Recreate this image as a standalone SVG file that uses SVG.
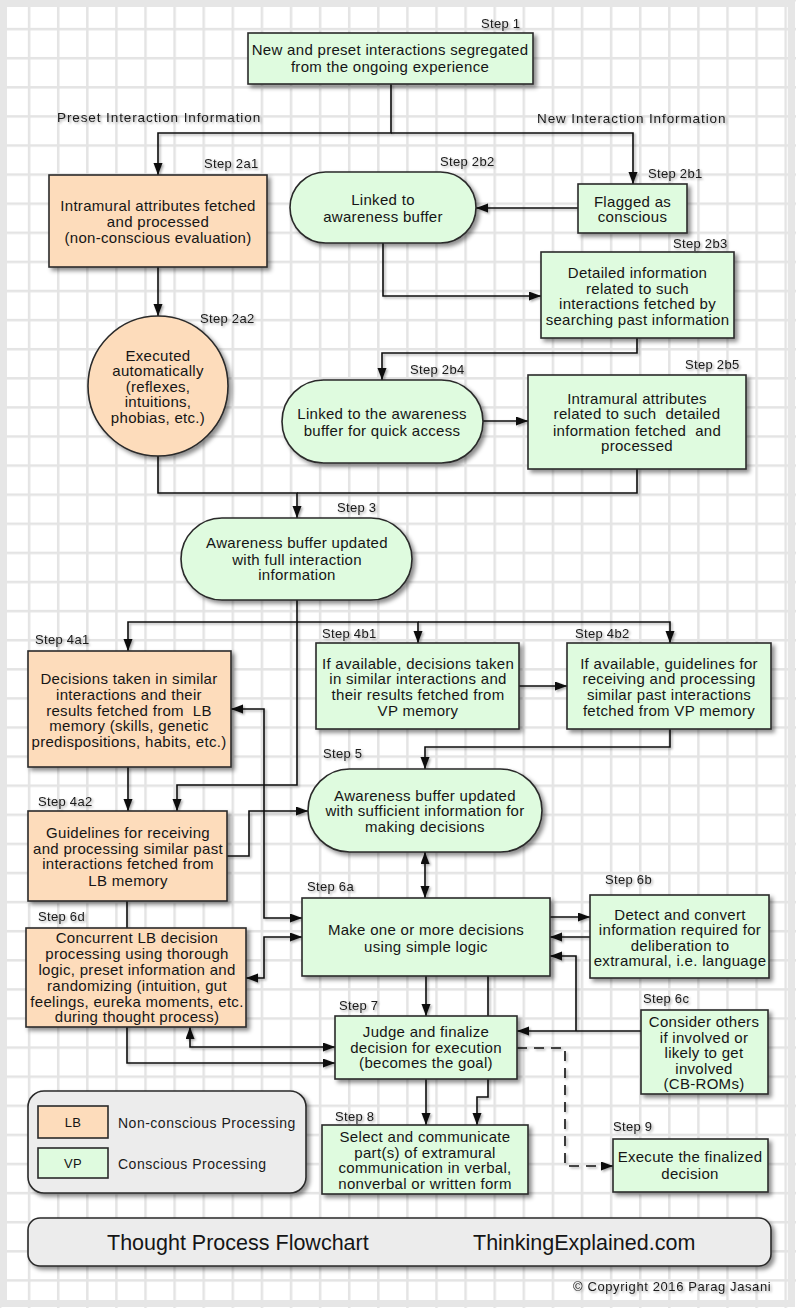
<svg xmlns="http://www.w3.org/2000/svg" width="796" height="1308" viewBox="0 0 796 1308">
<defs>
<pattern id="grid" patternUnits="userSpaceOnUse" x="-1.25" y="-1.25" width="29.1" height="29.1">
<rect x="0" y="0" width="2.5" height="29.1" fill="#e4e4e4"/>
<rect x="0" y="0" width="29.1" height="2.5" fill="#e4e4e4"/>
</pattern>
<filter id="sh" x="-10%" y="-10%" width="130%" height="130%">
<feDropShadow dx="3" dy="3" stdDeviation="2" flood-color="#000" flood-opacity="0.45"/>
</filter>
<filter id="lsh" x="-10%" y="-10%" width="130%" height="130%">
<feDropShadow dx="1.5" dy="1.5" stdDeviation="1.2" flood-color="#000" flood-opacity="0.35"/>
</filter>
<marker id="ah" markerUnits="userSpaceOnUse" markerWidth="12" markerHeight="10" refX="12" refY="4.5" orient="auto-start-reverse">
<path d="M0,0 L12,4.5 L0,9 z" fill="#111"/>
</marker>
</defs>
<style>
.vp{fill:#dffbdf;stroke:#2a2a2a;stroke-width:1.6}
.lb{fill:#fddcbb;stroke:#2a2a2a;stroke-width:1.6}
.gr{fill:#ececec;stroke:#2a2a2a;stroke-width:1.6}
.t{font-family:"Liberation Sans",Arial,sans-serif;font-size:15px;letter-spacing:0.3px;fill:#151515;text-anchor:middle}
.s{font-family:"Liberation Sans",Arial,sans-serif;font-size:13px;letter-spacing:0.3px;fill:#1a1a1a}
.h{font-family:"Liberation Sans",Arial,sans-serif;font-size:13.5px;letter-spacing:0.9px;fill:#1a1a1a}
.c{fill:none;stroke:#111;stroke-width:1.6}
.big{font-family:"Liberation Sans",Arial,sans-serif;font-size:21.5px;fill:#151515}
</style>
<rect x="0" y="0" width="796" height="1308" fill="#ffffff"/>
<rect x="0" y="0" width="796" height="1308" fill="url(#grid)"/>
<rect x="3.5" y="3.5" width="788" height="1300" fill="none" stroke="#e6e6e6" stroke-width="7"/>

<g id="connectors" class="c" filter="url(#lsh)">
<path d="M391 84 V133 H158 V175" marker-end="url(#ah)"/>
<path d="M391 133 H633 V184" marker-end="url(#ah)"/>
<path d="M578 208 H476" marker-end="url(#ah)"/>
<path d="M158 267 V316" marker-end="url(#ah)"/>
<path d="M383 243 V296 H541" marker-end="url(#ah)"/>
<path d="M637 338 V353 H382 V380" marker-end="url(#ah)"/>
<path d="M483 421 H528" marker-end="url(#ah)"/>
<path d="M158 456 V493 H297 V518" marker-end="url(#ah)"/>
<path d="M637 469 V493 H297"/>
<path d="M297 600 V622 H128 V651" marker-end="url(#ah)"/>
<path d="M297 622 H418 V643" marker-end="url(#ah)"/>
<path d="M418 622 H670 V643" marker-end="url(#ah)"/>
<path d="M297 622 V785 H177 V811" marker-end="url(#ah)"/>
<path d="M519 686 H567" marker-end="url(#ah)"/>
<path d="M670 729 V747 H425 V769" marker-end="url(#ah)"/>
<path d="M128 767 V811" marker-end="url(#ah)"/>
<path d="M227 856 H249 V811 H308" marker-end="url(#ah)"/>
<path d="M231 709 H264 V918 H302" marker-start="url(#ah)" marker-end="url(#ah)"/>
<path d="M425 852 V898" marker-start="url(#ah)" marker-end="url(#ah)"/>
<path d="M550 917 H590" marker-end="url(#ah)"/>
<path d="M590 937 H550" marker-end="url(#ah)"/>
<path d="M246 978 H264 V937 H302" marker-start="url(#ah)" marker-end="url(#ah)"/>
<path d="M190 1027 V1047 H335" marker-start="url(#ah)" marker-end="url(#ah)"/>
<path d="M127 901 V1063 H335" marker-end="url(#ah)"/>
<path d="M426 976 V1016" marker-end="url(#ah)"/>
<path d="M488 976 V1097 H477 V1125" marker-end="url(#ah)"/>
<path d="M426 1079 V1125" marker-end="url(#ah)"/>
<path d="M641 1031 H517" marker-end="url(#ah)"/>
<path d="M576 1031 V956 H550" marker-end="url(#ah)"/>
<path d="M517 1048 H565 V1166 H613" stroke-dasharray="10,7" marker-end="url(#ah)"/>
</g>

<g id="headers" class="h" filter="url(#lsh)">
<text x="57" y="122">Preset Interaction Information</text>
<text x="537" y="123">New Interaction Information</text>
</g>

<g id="step1">
<rect class="vp" x="248" y="33" width="285" height="51" filter="url(#sh)"/>
<text class="t" x="390" y="55">New and preset interactions segregated</text>
<text class="t" x="390" y="72">from the ongoing experience</text>
<text class="s" x="481" y="28" filter="url(#lsh)">Step 1</text>
</g>

<g id="step2a1">
<rect class="lb" x="49" y="175" width="218" height="92" filter="url(#sh)"/>
<text class="t" x="158" y="211">Intramural attributes fetched</text>
<text class="t" x="158" y="227">and processed</text>
<text class="t" x="158" y="243">(non-conscious evaluation)</text>
<text class="s" x="204" y="168" filter="url(#lsh)">Step 2a1</text>
</g>

<g id="step2a2">
<circle class="lb" cx="158" cy="386" r="70" filter="url(#sh)"/>
<text class="t" x="158" y="361">Executed</text>
<text class="t" x="158" y="376">automatically</text>
<text class="t" x="158" y="392">(reflexes,</text>
<text class="t" x="158" y="407">intuitions,</text>
<text class="t" x="158" y="423">phobias, etc.)</text>
<text class="s" x="200" y="323" filter="url(#lsh)">Step 2a2</text>
</g>

<g id="step2b1">
<rect class="vp" x="578" y="184" width="109" height="49" filter="url(#sh)"/>
<text class="t" x="632.5" y="207">Flagged as</text>
<text class="t" x="632.5" y="222">conscious</text>
<text class="s" x="648" y="178" filter="url(#lsh)">Step 2b1</text>
</g>

<g id="step2b2">
<rect class="vp" x="290" y="172" width="186" height="71" rx="35.5" filter="url(#sh)"/>
<text class="t" x="383" y="205">Linked to</text>
<text class="t" x="383" y="222">awareness buffer</text>
<text class="s" x="440" y="166" filter="url(#lsh)">Step 2b2</text>
</g>

<g id="step2b3">
<rect class="vp" x="541" y="252" width="193" height="86" filter="url(#sh)"/>
<text class="t" x="637.5" y="278">Detailed information</text>
<text class="t" x="637.5" y="294">related to such</text>
<text class="t" x="637.5" y="309">interactions fetched by</text>
<text class="t" x="637.5" y="325">searching past information</text>
<text class="s" x="673" y="248" filter="url(#lsh)">Step 2b3</text>
</g>

<g id="step2b4">
<rect class="vp" x="282" y="380" width="201" height="83" rx="41.5" filter="url(#sh)"/>
<text class="t" x="382" y="419">Linked to the awareness</text>
<text class="t" x="382" y="436">buffer for quick access</text>
<text class="s" x="410" y="374" filter="url(#lsh)">Step 2b4</text>
</g>

<g id="step2b5">
<rect class="vp" x="528" y="375" width="218" height="94" filter="url(#sh)"/>
<text class="t" x="637" y="404">Intramural attributes</text>
<text class="t" x="637" y="419" xml:space="preserve">related to such  detailed</text>
<text class="t" x="637" y="436" xml:space="preserve">information fetched  and</text>
<text class="t" x="637" y="451">processed</text>
<text class="s" x="685" y="369" filter="url(#lsh)">Step 2b5</text>
</g>

<g id="step3">
<rect class="vp" x="181" y="518" width="231" height="82" rx="41" filter="url(#sh)"/>
<text class="t" x="297" y="548">Awareness buffer updated</text>
<text class="t" x="297" y="565">with full interaction</text>
<text class="t" x="297" y="580">information</text>
<text class="s" x="337" y="512" filter="url(#lsh)">Step 3</text>
</g>

<g id="step4a1">
<rect class="lb" x="28" y="651" width="203" height="116" filter="url(#sh)"/>
<text class="t" x="129" y="684">Decisions taken in similar</text>
<text class="t" x="129" y="700">interactions and their</text>
<text class="t" x="129" y="716" xml:space="preserve">results fetched from  LB</text>
<text class="t" x="129" y="731">memory (skills, genetic</text>
<text class="t" x="129" y="747">predispositions, habits, etc.)</text>
<text class="s" x="35" y="644" filter="url(#lsh)">Step 4a1</text>
</g>

<g id="step4b1">
<rect class="vp" x="316" y="643" width="203" height="86" filter="url(#sh)"/>
<text class="t" x="418" y="669">If available, decisions taken</text>
<text class="t" x="418" y="684">in similar interactions and</text>
<text class="t" x="418" y="700">their results fetched from</text>
<text class="t" x="418" y="716">VP memory</text>
<text class="s" x="322" y="638" filter="url(#lsh)">Step 4b1</text>
</g>

<g id="step4b2">
<rect class="vp" x="567" y="643" width="204" height="86" filter="url(#sh)"/>
<text class="t" x="669" y="669">If available, guidelines for</text>
<text class="t" x="669" y="684">receiving and processing</text>
<text class="t" x="669" y="700">similar past interactions</text>
<text class="t" x="669" y="716">fetched from VP memory</text>
<text class="s" x="575" y="638" filter="url(#lsh)">Step 4b2</text>
</g>

<g id="step4a2">
<rect class="lb" x="28" y="811" width="199" height="90" filter="url(#sh)"/>
<text class="t" x="128" y="838">Guidelines for receiving</text>
<text class="t" x="128" y="854">and processing similar past</text>
<text class="t" x="128" y="869">interactions fetched from</text>
<text class="t" x="128" y="886">LB memory</text>
<text class="s" x="38" y="806" filter="url(#lsh)">Step 4a2</text>
</g>

<g id="step5">
<rect class="vp" x="308" y="769" width="234" height="83" rx="41.5" filter="url(#sh)"/>
<text class="t" x="425" y="801">Awareness buffer updated</text>
<text class="t" x="425" y="816">with sufficient information for</text>
<text class="t" x="425" y="832">making decisions</text>
<text class="s" x="323" y="758" filter="url(#lsh)">Step 5</text>
</g>

<g id="step6a">
<rect class="vp" x="302" y="898" width="248" height="78" filter="url(#sh)"/>
<text class="t" x="426" y="935">Make one or more decisions</text>
<text class="t" x="426" y="952">using simple logic</text>
<text class="s" x="307" y="891" filter="url(#lsh)">Step 6a</text>
</g>

<g id="step6b">
<rect class="vp" x="590" y="895" width="179" height="83" filter="url(#sh)"/>
<text class="t" x="680" y="920">Detect and convert</text>
<text class="t" x="680" y="935">information required for</text>
<text class="t" x="680" y="951">deliberation to</text>
<text class="t" x="680" y="966">extramural, i.e. language</text>
<text class="s" x="605" y="884" filter="url(#lsh)">Step 6b</text>
</g>

<g id="step6d">
<rect class="lb" x="26" y="928" width="220" height="99" filter="url(#sh)"/>
<text class="t" x="137" y="943">Concurrent LB decision</text>
<text class="t" x="137" y="959">processing using thorough</text>
<text class="t" x="137" y="975">logic, preset information and</text>
<text class="t" x="137" y="991">randomizing (intuition, gut</text>
<text class="t" x="137" y="1007">feelings, eureka moments, etc.</text>
<text class="t" x="137" y="1022">during thought process)</text>
<text class="s" x="38" y="921" filter="url(#lsh)">Step 6d</text>
</g>

<g id="step6c">
<rect class="vp" x="641" y="1010" width="127" height="84" filter="url(#sh)"/>
<text class="t" x="704" y="1027">Consider others</text>
<text class="t" x="704" y="1042.5">if involved or</text>
<text class="t" x="704" y="1058">likely to get</text>
<text class="t" x="704" y="1073.5">involved</text>
<text class="t" x="704" y="1089">(CB-ROMs)</text>
<text class="s" x="643" y="1003" filter="url(#lsh)">Step 6c</text>
</g>

<g id="step7">
<rect class="vp" x="335" y="1016" width="182" height="63" filter="url(#sh)"/>
<text class="t" x="426" y="1037">Judge and finalize</text>
<text class="t" x="426" y="1053">decision for execution</text>
<text class="t" x="426" y="1068">(becomes the goal)</text>
<text class="s" x="339" y="1010" filter="url(#lsh)">Step 7</text>
</g>

<g id="step8">
<rect class="vp" x="322" y="1125" width="206" height="69" filter="url(#sh)"/>
<text class="t" x="425" y="1142">Select and communicate</text>
<text class="t" x="425" y="1158">part(s) of extramural</text>
<text class="t" x="425" y="1173">communication in verbal,</text>
<text class="t" x="425" y="1189">nonverbal or written form</text>
<text class="s" x="335" y="1121" filter="url(#lsh)">Step 8</text>
</g>

<g id="step9">
<rect class="vp" x="613" y="1139" width="155" height="53" filter="url(#sh)"/>
<text class="t" x="690" y="1162">Execute the finalized</text>
<text class="t" x="690" y="1179">decision</text>
<text class="s" x="613" y="1131" filter="url(#lsh)">Step 9</text>
</g>

<g id="legend">
<rect class="gr" x="28" y="1091" width="278" height="102" rx="16" filter="url(#sh)"/>
<rect class="lb" x="38" y="1106" width="70" height="32"/>
<rect class="vp" x="38" y="1148" width="70" height="30"/>
<text class="t" x="73" y="1127" style="font-size:13px">LB</text>
<text class="t" x="73" y="1168" style="font-size:13px">VP</text>
<text class="h" x="118" y="1128" style="font-size:14px;letter-spacing:0.5px">Non-conscious Processing</text>
<text class="h" x="118" y="1169" style="font-size:14px;letter-spacing:0.5px">Conscious Processing</text>
</g>

<g id="title">
<rect class="gr" x="28" y="1218" width="743" height="48" rx="12" filter="url(#sh)"/>
<text class="big" x="107" y="1250">Thought Process Flowchart</text>
<text class="big" x="473" y="1250">ThinkingExplained.com</text>
</g>

<g id="copyright">
<text class="h" x="573" y="1291" style="font-size:13px;letter-spacing:0.6px" filter="url(#lsh)">© Copyright 2016 Parag Jasani</text>
</g>
</svg>
